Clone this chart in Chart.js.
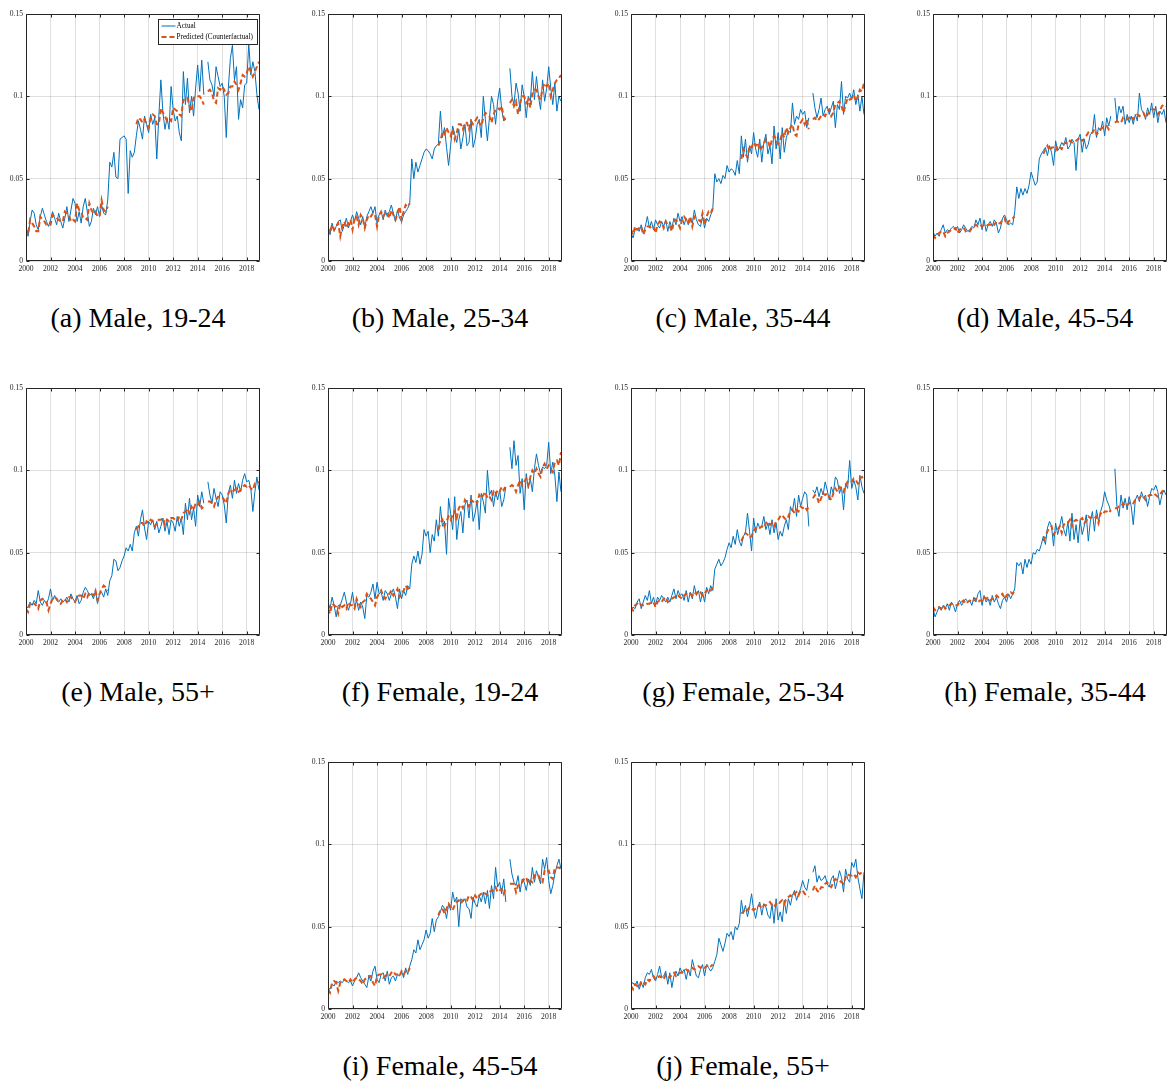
<!DOCTYPE html>
<html>
<head>
<meta charset="utf-8">
<title>Actual vs predicted rates by sex and age group</title>
<script src="https://cdn.jsdelivr.net/npm/chart.js@4.4.1/dist/chart.umd.min.js"></script>
<style>
  html, body { margin: 0; padding: 0; background: #fff; }
  #fig { position: relative; width: 1167px; height: 1083px; overflow: hidden; background: #fff; }
  #fig canvas { position: absolute; }
  .cap {
    position: absolute; white-space: nowrap; transform: translateX(-50%);
    font-family: "Liberation Serif", "Times New Roman", serif;
    font-size: 28px; line-height: 28px; color: #000;
  }
</style>
</head>
<body>
<div id="fig"></div>
<script>
const _ = null;

// Observation dates: every second month from January 2000
const START_YEAR = 2000;
const OBS_PER_YEAR = 6;
const N_OBS = 115;
const DATES = Array.from({ length: N_OBS }, (v, i) => START_YEAR + i / OBS_PER_YEAR);

const X_MIN = 2000, X_MAX = 2019.0833;
const X_TICKS = [2000, 2002, 2004, 2006, 2008, 2010, 2012, 2014, 2016, 2018];
const X_TICK_LABELS = ['2000', '2002', '2004', '2006', '2008', '2010', '2012', '2014', '2016', '2018'];
const Y_TICKS = [0, 0.05, 0.1, 0.15];
const Y_TICK_LABELS = ['0', '0.05', '0.1', '0.15'];
const SERIES_NAMES = ['Actual', 'Predicted (Counterfactual)'];
const CAPTIONS = [
  '(a) Male, 19-24', '(b) Male, 25-34', '(c) Male, 35-44', '(d) Male, 45-54', '(e) Male, 55+',
  '(f) Female, 19-24', '(g) Female, 25-34', '(h) Female, 35-44', '(i) Female, 45-54', '(j) Female, 55+'
];

// ---- Male 19-24 ----
const actualM1924 = [
  .021,.015,.024,.031,.029,.022,
  .019,.027,.032,.028,.024,.021,
  .025,.030,.026,.022,.029,.024,
  .020,.026,.033,.024,.031,.038,
  .035,.024,.030,.023,.033,.038,
  .030,.021,.024,.032,.028,.033,
  .027,.034,.029,.028,.037,.060,
  .057,.066,.051,.050,.074,.075,
  .076,.074,.041,.067,.063,.066,
  .076,.085,.080,.074,.088,.083,
  .078,.089,.083,.087,.062,.088,
  .110,.090,.080,.087,.080,.106,
  .092,.085,.088,.078,.073,.115,
  .095,.111,.090,.100,.088,.105,
  .119,.103,.122,.101,_,.121,
  .110,.107,.100,.118,.112,.106,
  .108,.100,.075,.105,.123,.131,
  .110,.118,.086,.098,.093,.107,
  .108,.132,.113,.121,.115,.101,
  .092
];
const predictedM1924 = [
  .019,.016,.025,.023,.021,.018,
  .018,.027,.025,.024,.022,.022,
  .022,.028,.027,.026,.025,.024,
  .024,.030,.029,.028,.024,.025,
  .024,.035,.031,.030,.026,.026,
  .025,.035,.031,.029,.030,.027,
  .027,.037,.031,.030,.033,_,
  _,_,_,_,_,_,
  _,_,_,_,_,_,
  .083,.087,.086,.084,.086,.083,
  .081,.087,.089,.088,.083,.083,
  .093,.090,.088,.085,.086,.085,
  .093,.092,.091,.089,.088,.098,
  .098,.099,.094,.091,.099,.100,
  .100,.100,.098,.095,_,.103,
  .104,.102,.097,.096,.105,.104,
  .106,.104,.101,.102,.106,.106,
  .109,.107,.104,.108,.113,.112,
  .114,.118,.115,.112,.115,.118,
  .121
];

// ---- Male 25-34 ----
const actualM2534 = [
  .021,.016,.023,.018,.021,.024,
  .025,.018,.022,.026,.020,.024,
  .028,.024,.030,.026,.022,.027,
  .020,.027,.030,.033,.029,.033,
  .023,.028,.030,.025,.031,.027,
  .030,.034,.029,.024,.031,.026,
  .024,.028,.030,.032,.035,.062,
  .050,.060,.054,.058,.062,.066,
  .068,.067,.065,.062,.068,.070,
  .071,.091,.075,.081,.069,.058,
  .070,.082,.077,.072,.080,.068,
  .075,.083,.070,.072,.086,.069,
  .074,.083,.086,.075,.100,.086,
  .073,.087,.100,.095,.083,.097,
  .105,.092,.085,.087,_,.117,
  .100,.095,.108,.102,.091,.107,
  .100,.087,.100,.097,.115,.098,
  .112,.100,.092,.110,.097,.105,
  .118,.105,.095,.108,.091,.100,
  .097
];
const predictedM2534 = [
  .020,.017,.022,.019,.021,.023,
  .015,.021,.024,.020,.023,.025,
  .019,.026,.027,.022,.028,.026,
  .020,.025,.028,.027,.029,.028,
  .021,.028,.030,.027,.029,.030,
  .026,.031,.028,.025,.029,.033,
  .025,.030,.034,.033,.035,_,
  _,_,_,_,_,_,
  _,_,_,_,_,_,
  .070,.073,.078,.077,.081,.078,
  .076,.080,.074,.078,.083,.083,
  .080,.084,.084,.080,.085,.083,
  .085,.087,.084,.082,.087,.090,
  .089,.088,.084,.089,.092,.093,
  .092,.094,.087,.085,_,.096,
  .098,.094,.097,.089,.096,.100,
  .100,.096,.098,.093,.102,.104,
  .104,.100,.098,.105,.108,.106,
  .108,.100,.104,.108,.110,.111,
  .113
];

// ---- Male 35-44 ----
const actualM3544 = [
  .017,.014,.019,.020,.018,.022,
  .017,.021,.027,.020,.024,.019,
  .025,.022,.020,.024,.021,.025,
  .018,.024,.020,.026,.022,.029,
  .024,.027,.022,.026,.022,.025,
  .023,.031,.025,.022,.021,.027,
  .020,.026,.024,.028,.031,.053,
  .048,.050,.047,.052,.050,.058,
  .054,.056,.055,.052,.061,.053,
  .076,.063,.074,.060,.070,.065,
  .078,.068,.063,.074,.060,.072,
  .077,.065,.070,.059,.082,.068,
  .078,.062,.081,.066,.075,.079,
  .078,.096,.083,.088,.086,.092,
  .089,.091,.081,.087,_,.102,
  .093,.087,.092,.099,.088,.092,
  .094,.089,.093,.097,.081,.095,
  .092,.109,.089,.100,.099,.102,
  .098,.104,.095,.101,.091,.100,
  .089
];
const predictedM3544 = [
  .019,.016,.021,.019,.020,.021,
  .016,.019,.021,.021,.020,.021,
  .017,.022,.024,.023,.020,.024,
  .022,.021,.018,.024,.025,.023,
  .020,.025,.027,.025,.023,.027,
  .021,.027,.026,.025,.024,.029,
  .022,.027,.030,.029,.032,_,
  _,_,_,_,_,_,
  _,_,_,_,_,_,
  .062,.068,.065,.063,.070,.069,
  .072,.070,.072,.067,.069,.071,
  .074,.073,.069,.074,.076,.074,
  .071,.073,.078,.075,.081,.078,
  .081,.083,.077,.076,.083,.084,
  .086,.083,.086,.080,_,.086,
  .087,.085,.086,.088,.089,.088,
  .091,.092,.088,.090,.095,.096,
  .097,.094,.090,.095,.099,.098,
  .099,.101,.097,.100,.104,.103,
  .108
];

// ---- Male 45-54 ----
const actualM4554 = [
  .018,.015,.017,.015,.019,.022,
  .017,.019,.018,.020,.021,.019,
  .021,.017,.019,.022,.020,.018,
  .019,.021,.020,.025,.022,.026,
  .019,.025,.018,.022,.024,.021,
  .025,.023,.017,.020,.026,.028,
  .025,.022,.023,.022,.030,.045,
  .038,.044,.040,.044,.041,.046,
  .054,.050,.046,.048,.062,.065,
  .067,.069,.064,.070,.066,.058,
  .073,.067,.069,.072,.070,.075,
  .068,.070,.074,.072,.055,.074,
  .077,.066,.074,.068,.071,.077,
  .078,.089,.075,.081,.079,.085,
  .076,.087,.082,.088,_,.099,
  .085,.094,.090,.094,.083,.089,
  .084,.088,.083,.089,.085,.102,
  .092,.090,.086,.093,.089,.096,
  .087,.094,.084,.091,.089,.092,
  .084
];
const predictedM4554 = [
  .016,.014,.016,.017,.018,.018,
  .015,.017,.018,.019,.019,.020,
  .017,.019,.020,.020,.018,.019,
  .018,.020,.021,.022,.021,.022,
  .021,.022,.021,.022,.022,.023,
  .022,.024,.023,.023,.025,.026,
  .022,.024,.025,.026,.027,_,
  _,_,_,_,_,_,
  _,_,_,_,_,_,
  .065,.068,.070,.067,.069,.069,
  .067,.070,.069,.068,.071,.072,
  .071,.073,.072,.072,.073,.074,
  .075,.073,.074,.076,.078,.077,
  .078,.080,.077,.078,.080,.081,
  .081,.082,.080,.082,_,.084,
  .085,.084,.084,.087,.086,.086,
  .087,.088,.086,.088,.089,.088,
  .089,.090,.087,.089,.091,.092,
  .092,.092,.089,.091,.094,.095,
  .094
];

// ---- Male 55+ ----
const actualM55 = [
  .016,.017,.020,.018,.021,.019,
  .027,.020,.018,.021,.019,.022,
  .028,.021,.024,.021,.020,.022,
  .020,.021,.023,.020,.025,.022,
  .020,.024,.019,.021,.026,.029,
  .027,.024,.025,.022,.027,.019,
  .025,.026,.023,.028,.024,.033,
  .036,.046,.045,.039,.041,.045,
  .048,.053,.051,.055,.051,.062,
  .066,.060,.070,.076,.065,.058,
  .069,.067,.070,.064,.069,.062,
  .066,.071,.063,.069,.061,.070,
  .068,.063,.072,.066,.071,.061,
  .080,.070,.083,.070,.077,.066,
  .085,.078,.087,.080,_,.093,
  .085,.080,.089,.083,.078,.087,
  .085,.079,.068,.086,.091,.083,
  .094,.086,.092,.087,.094,.098,
  .093,.094,.089,.075,.087,.096,
  .088
];
const predictedM55 = [
  .016,.014,.019,.020,.019,.018,
  .016,.021,.022,.021,.020,.015,
  .019,.022,.023,.022,.020,.019,
  .021,.022,.020,.023,.023,.021,
  .020,.023,.024,.024,.022,.025,
  .023,.026,.025,.024,.027,.021,
  .025,.028,.030,.029,.027,_,
  _,_,_,_,_,_,
  _,_,_,_,_,_,
  .064,.066,.068,.068,.066,.069,
  .068,.070,.069,.066,.068,.070,
  .070,.071,.067,.070,.069,.071,
  .071,.070,.069,.072,.070,.074,
  .075,.077,.074,.078,.076,.080,
  .079,.081,.077,.078,_,.081,
  .081,.080,.078,.082,.084,.084,
  .084,.082,.080,.086,.088,.087,
  .088,.089,.087,.088,.090,.091,
  .090,.091,.089,.088,.092,.092,
  .093
];

// ---- Female 19-24 ----
const actualF1924 = [
  .020,.016,.023,.018,.011,.018,
  .018,.022,.026,.020,.015,.019,
  .026,.017,.021,.015,.020,.017,
  .010,.024,.023,.026,.031,.022,
  .032,.025,.026,.021,.027,.025,
  .021,.025,.028,.023,.016,.028,
  .022,.027,.024,.030,.028,.043,
  .048,.044,.051,.043,.049,.064,
  .060,.063,.050,.061,.057,.070,
  .060,.078,.066,.069,.049,.083,
  .074,.064,.084,.058,.070,.075,
  .062,.079,.082,.071,.085,.069,
  .074,.082,.064,.086,.081,.074,
  .100,.085,.088,.078,.087,.082,
  .088,.078,.082,.090,_,.114,
  .101,.118,.103,.109,.086,.095,
  .076,.098,.089,.095,.087,.101,
  .110,.103,.098,.102,.101,.103,
  .117,.098,.105,.097,.081,.099,
  .087
];
const predictedF1924 = [
  .016,.013,.019,.018,.017,.013,
  .019,.017,.018,.016,.020,.018,
  .018,.016,.022,.019,.017,.020,
  .021,.025,.023,.022,.020,.018,
  .023,.025,.027,.024,.022,.024,
  .025,.027,.024,.026,.028,.023,
  .025,.027,.030,.028,.029,_,
  _,_,_,_,_,_,
  _,_,_,_,_,_,
  .064,.068,.070,.066,.069,.072,
  .070,.073,.075,.071,.077,.079,
  .077,.082,.080,.078,.082,.081,
  .082,.080,.085,.083,.085,.087,
  .083,.084,.082,.087,.085,.088,
  .087,.090,.088,.091,_,.090,
  .091,.090,.087,.091,.094,.091,
  .093,.095,.091,.096,.100,.098,
  .101,.098,.096,.102,.104,.101,
  .103,.101,.099,.105,.106,.103,
  .111
];

// ---- Female 25-34 ----
const actualF2534 = [
  .014,.017,.016,.020,.022,.016,
  .020,.024,.021,.027,.019,.023,
  .018,.023,.021,.024,.022,.020,
  .023,.020,.024,.028,.022,.027,
  .024,.025,.021,.027,.020,.026,
  .022,.030,.024,.027,.020,.026,
  .020,.029,.025,.030,.027,.040,
  .043,.046,.042,.044,.047,.052,
  .056,.053,.060,.055,.064,.057,
  .054,.060,.062,.074,.063,.051,
  .071,.062,.068,.065,.066,.072,
  .064,.068,.061,.070,.062,.068,
  .058,.063,.060,.066,.070,.064,
  .078,.075,.083,.072,.085,.078,
  .083,.087,.085,.066,_,.088,
  .086,.090,.084,.089,.085,.093,
  .088,.082,.090,.086,.096,.094,
  .086,.090,.076,.092,.089,.106,
  .089,.094,.090,.082,.097,.090,
  .086
];
const predictedF2534 = [
  .017,.015,.018,.019,.020,.018,
  .018,.018,.019,.019,.020,.020,
  .017,.020,.021,.020,.022,.023,
  .020,.021,.022,.023,.023,.024,
  .023,.022,.024,.025,.024,.025,
  .024,.026,.025,.027,.026,.024,
  .025,.027,.028,.027,.029,_,
  _,_,_,_,_,_,
  _,_,_,_,_,_,
  .057,.060,.062,.061,.059,.060,
  .063,.065,.064,.065,.066,.065,
  .068,.069,.067,.068,.066,.069,
  .070,.072,.073,.071,.070,.072,
  .075,.076,.074,.076,.075,.078,
  .077,.078,.076,.078,_,.083,
  .085,.084,.080,.083,.086,.085,
  .086,.084,.082,.086,.089,.087,
  .090,.089,.087,.091,.093,.092,
  .093,.095,.094,.092,.095,.096,
  .094
];

// ---- Female 35-44 ----
const actualF3544 = [
  .016,.011,.014,.017,.015,.018,
  .016,.019,.015,.020,.018,.014,
  .019,.021,.018,.020,.022,.020,
  .021,.018,.023,.020,.025,.027,
  .018,.024,.020,.022,.018,.024,
  .020,.023,.019,.016,.021,.023,
  .020,.025,.022,.025,.028,.044,
  .042,.044,.037,.046,.041,.046,
  .043,.050,.049,.052,.051,.055,
  .060,.055,.065,.069,.066,.054,
  .068,.061,.066,.072,.064,.060,
  .069,.057,.074,.058,.067,.056,
  .070,.061,.066,.073,.057,.069,
  .075,.063,.076,.069,.075,.079,
  .087,.082,.079,.075,_,.101,
  .078,.072,.085,.077,.083,.076,
  .084,.078,.067,.082,.085,.081,
  .087,.083,.085,.078,.084,.089,
  .088,.091,.087,.079,.085,.088,
  .085
];
const predictedF3544 = [
  .017,.015,.016,.017,.016,.018,
  .016,.017,.018,.019,.018,.018,
  .018,.020,.020,.021,.019,.020,
  .021,.020,.021,.022,.020,.021,
  .021,.023,.022,.023,.021,.022,
  .022,.024,.023,.024,.025,.022,
  .024,.025,.026,.025,.027,_,
  _,_,_,_,_,_,
  _,_,_,_,_,_,
  .057,.060,.063,.065,.066,.061,
  .063,.064,.066,.062,.067,.068,
  .068,.070,.066,.069,.070,.069,
  .070,.071,.068,.069,.072,.071,
  .072,.071,.072,.068,.074,.073,
  .075,.075,.074,.076,_,.077,
  .077,.078,.078,.080,.078,.079,
  .080,.081,.080,.082,.083,.083,
  .085,.084,.082,.084,.085,.085,
  .086,.085,.084,.085,.087,.088,
  .087
];

// ---- Female 45-54 ----
const actualF4554 = [
  .013,.012,.015,.014,.017,.016,
  .017,.016,.018,.017,.016,.017,
  .014,.017,.019,.022,.019,.017,
  .015,.013,.020,.017,.023,.026,
  .018,.016,.021,.022,.017,.023,
  .015,.019,.020,.017,.021,.020,
  .023,.019,.025,.021,.026,.030,
  .036,.034,.042,.036,.039,.042,
  .048,.043,.046,.055,.047,.054,
  .056,.059,.063,.061,.055,.064,
  .060,.071,.065,.068,.050,.067,
  .065,.067,.062,.061,.055,.068,
  .064,.062,.069,.065,.071,.064,
  .072,.061,.075,.067,.086,.074,
  .077,.070,.079,.065,_,.091,
  .082,.077,.075,.081,.071,.079,
  .077,.072,.079,.075,.086,.077,
  .084,.080,.076,.091,.085,.092,
  .078,.070,.075,.082,.087,.091,
  .085
];
const predictedF4554 = [
  .012,.010,.016,.017,.016,.011,
  .016,.017,.018,.017,.016,.018,
  .016,.018,.019,.018,.017,.015,
  .018,.019,.020,.020,.016,.014,
  .020,.021,.021,.019,.020,.021,
  .020,.022,.023,.021,.021,.020,
  .023,.021,.023,.022,.025,_,
  _,_,_,_,_,_,
  _,_,_,_,_,_,
  .057,.060,.061,.058,.061,.064,
  .062,.060,.063,.065,.066,.064,
  .066,.067,.066,.069,.068,.066,
  .069,.067,.069,.070,.071,.070,
  .069,.071,.072,.072,.074,.071,
  .072,.073,.070,.074,_,.076,
  .076,.076,.071,.075,.076,.077,
  .079,.080,.076,.078,.077,.081,
  .082,.081,.078,.077,.084,.083,
  .084,.080,.079,.086,.086,.086,
  .085
];

// ---- Female 55+ ----
const actualF55 = [
  .015,.016,.014,.017,.012,.016,
  .013,.019,.022,.021,.024,.019,
  .017,.021,.026,.019,.020,.023,
  .015,.022,.013,.020,.023,.020,
  .025,.022,.024,.018,.024,.020,
  .030,.025,.020,.019,.024,.027,
  .020,.027,.025,.023,.025,.029,
  .033,.043,.039,.035,.040,.046,
  .044,.047,.042,.050,.048,.052,
  .066,.058,.063,.056,.062,.070,
  .060,.055,.062,.065,.057,.064,
  .062,.057,.055,.064,.052,.067,
  .054,.059,.053,.066,.058,.067,
  .063,.069,.072,.066,.070,.073,
  .078,.074,.072,.079,_,.083,
  .087,.077,.081,.078,.079,.081,
  .076,.074,.079,.081,.073,.078,
  .084,.080,.071,.085,.079,.077,
  .089,.086,.091,.080,.073,.067,
  .083
];
const predictedF55 = [
  .014,.012,.015,.014,.013,.017,
  .016,.015,.018,.017,.019,.020,
  .018,.019,.020,.019,.018,.021,
  .020,.019,.021,.022,.020,.021,
  .022,.022,.023,.024,.023,.024,
  .025,.024,.025,.026,.025,.026,
  .025,.026,.027,.026,.027,_,
  _,_,_,_,_,_,
  _,_,_,_,_,_,
  .058,.059,.061,.060,.062,.061,
  .060,.061,.062,.063,.061,.063,
  .063,.064,.065,.063,.062,.064,
  .063,.065,.066,.064,.067,.068,
  .069,.068,.070,.071,.069,.072,
  .072,.070,.069,.068,_,.072,
  .075,.072,.071,.074,.074,.076,
  .077,.075,.074,.077,.079,.078,
  .078,.077,.076,.080,.082,.081,
  .081,.082,.080,.083,.082,.083,
  .083
];

const ACTUAL = [actualM1924, actualM2534, actualM3544, actualM4554, actualM55,
                actualF1924, actualF2534, actualF3544, actualF4554, actualF55];
const PREDICTED = [predictedM1924, predictedM2534, predictedM3544, predictedM4554, predictedM55,
                   predictedF1924, predictedF2534, predictedF3544, predictedF4554, predictedF55];

// ---- page layout (pixels) ----
const COL_X = [26, 328, 631, 933];
const ROW_Y = [14, 388, 762];
const PLOT_W = 234, PLOT_H = 247;
const GRID_POS = [[0,0],[1,0],[2,0],[3,0],[0,1],[1,1],[2,1],[3,1],[1,2],[2,2]];
const YAXIS_W = 30, XAXIS_H = 22, PAD_T = 10, PAD_R = 6;

const BLUE = '#0072BD', ORANGE = '#D95319', AXIS = '#262626';
const TICK_FONT = { family: '"Liberation Serif", "Times New Roman", serif', size: 7.6 };
const TICK_LEN = 3;

// Box around the axes with inward tick marks on all four sides
const axesBox = {
  id: 'axesBox',
  afterDatasetsDraw(chart) {
    const { ctx, chartArea: a, scales: { x, y } } = chart;
    const L = Math.round(a.left) + 0.5, R = Math.round(a.right) - 0.5;
    const T = Math.round(a.top) + 0.5, B = Math.round(a.bottom) - 0.5;
    ctx.save();
    ctx.strokeStyle = AXIS;
    ctx.lineWidth = 1;
    ctx.beginPath();
    ctx.rect(L, T, R - L, B - T);
    x.ticks.forEach(t => {
      const p = Math.round(x.getPixelForValue(t.value)) + 0.5;
      ctx.moveTo(p, B); ctx.lineTo(p, B - TICK_LEN);
      ctx.moveTo(p, T); ctx.lineTo(p, T + TICK_LEN);
    });
    y.ticks.forEach(t => {
      const p = Math.round(y.getPixelForValue(t.value)) + 0.5;
      ctx.moveTo(L, p); ctx.lineTo(L + TICK_LEN, p);
      ctx.moveTo(R, p); ctx.lineTo(R - TICK_LEN, p);
    });
    ctx.stroke();
    ctx.restore();
  }
};

// Boxed legend in the upper-right corner of the plot area
const boxLegend = {
  id: 'boxLegend',
  afterDraw(chart, args, opts) {
    if (!opts.display) return;
    const { ctx, chartArea: a } = chart;
    const w = 99, h = 25;
    const bx = Math.round(a.right - 102) + 0.5, by = Math.round(a.top + 5) + 0.5;
    ctx.save();
    ctx.fillStyle = '#fff';
    ctx.fillRect(bx, by, w, h);
    ctx.strokeStyle = AXIS;
    ctx.lineWidth = 1;
    ctx.strokeRect(bx, by, w, h);
    ctx.font = '7.2px "Liberation Serif", "Times New Roman", serif';
    ctx.textBaseline = 'middle';
    ctx.fillStyle = '#000';
    chart.data.datasets.forEach((ds, i) => {
      const ry = by + 6.5 + i * 11;
      ctx.beginPath();
      ctx.strokeStyle = ds.borderColor;
      ctx.lineWidth = ds.borderWidth;
      ctx.setLineDash(ds.borderDash || []);
      ctx.moveTo(bx + 3, ry);
      ctx.lineTo(bx + 17, ry);
      ctx.stroke();
      ctx.setLineDash([]);
      ctx.fillText(ds.label, bx + 18, ry + 0.5);
    });
    ctx.restore();
  }
};

const fig = document.getElementById('fig');

GRID_POS.forEach(([c, r], k) => {
  const px = COL_X[c], py = ROW_Y[r];
  const cv = document.createElement('canvas');
  const cw = PLOT_W + YAXIS_W + PAD_R, ch = PLOT_H + PAD_T + XAXIS_H;
  cv.width = cw; cv.height = ch;
  cv.style.width = cw + 'px'; cv.style.height = ch + 'px';
  cv.style.left = (px - YAXIS_W) + 'px';
  cv.style.top = (py - PAD_T) + 'px';
  fig.appendChild(cv);

  const toPts = vals => vals.map((v, i) => ({ x: DATES[i], y: v }));

  new Chart(cv, {
    type: 'line',
    data: {
      datasets: [
        { label: SERIES_NAMES[0], data: toPts(ACTUAL[k]), borderColor: BLUE, borderWidth: 1,
          pointRadius: 0, tension: 0, spanGaps: false, order: 1 },
        { label: SERIES_NAMES[1], data: toPts(PREDICTED[k]), borderColor: ORANGE, borderWidth: 2,
          borderDash: [5, 3], pointRadius: 0, tension: 0, spanGaps: false, order: 0 }
      ]
    },
    options: {
      responsive: false,
      animation: false,
      devicePixelRatio: 1,
      layout: { padding: { top: PAD_T, right: PAD_R, left: 0, bottom: 0 } },
      plugins: {
        legend: { display: false },
        tooltip: { enabled: false },
        boxLegend: { display: k === 0 }
      },
      scales: {
        x: {
          type: 'linear', min: X_MIN, max: X_MAX,
          afterBuildTicks: s => { s.ticks = X_TICKS.map(v => ({ value: v })); },
          afterFit: s => { s.height = XAXIS_H; },
          ticks: { autoSkip: false, maxRotation: 0, padding: 3, color: AXIS, font: TICK_FONT,
                   callback: (v, i) => X_TICK_LABELS[i] },
          grid: { color: 'rgba(38,38,38,0.15)', lineWidth: 1, drawTicks: false },
          border: { display: false }
        },
        y: {
          type: 'linear', min: 0, max: 0.15,
          afterBuildTicks: s => { s.ticks = Y_TICKS.map(v => ({ value: v })); },
          afterFit: s => { s.width = YAXIS_W; },
          ticks: { padding: 3, color: AXIS, font: TICK_FONT,
                   callback: (v, i) => Y_TICK_LABELS[i] },
          grid: { color: 'rgba(38,38,38,0.15)', lineWidth: 1, drawTicks: false },
          border: { display: false }
        }
      }
    },
    plugins: [axesBox, boxLegend]
  });

  const cap = document.createElement('div');
  cap.className = 'cap';
  cap.textContent = CAPTIONS[k];
  cap.style.left = (px + PLOT_W / 2 - 5) + 'px';
  cap.style.top = (py + PLOT_H + 43) + 'px';
  fig.appendChild(cap);
});
</script>
</body>
</html>
